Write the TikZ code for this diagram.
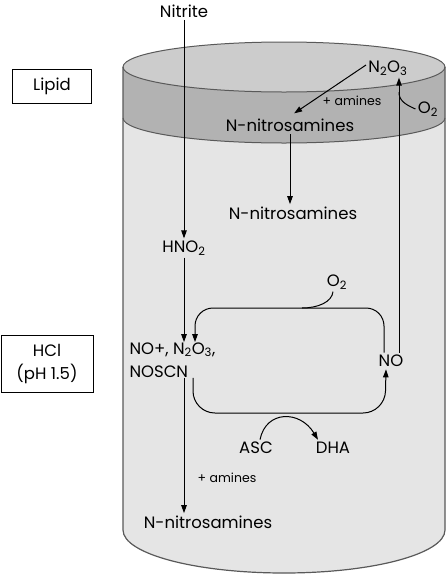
\documentclass[tikz,border=0pt]{standalone}
\usepackage{fontspec}
\setmainfont{Poppins}
\usetikzlibrary{arrows.meta}
\definecolor{lipidtop}{gray}{0.80}
\definecolor{lipidband}{gray}{0.70}
\definecolor{acidbody}{gray}{0.90}
\definecolor{rim}{gray}{0.35}
\tikzset{
  lbl/.style={inner sep=2pt},
  small/.style={font=\fontsize{12.5}{14}\selectfont},
  tag/.style={draw,line width=0.8pt,align=center,inner sep=0pt}
}
\begin{document}
\begin{tikzpicture}[x=1pt,y=-1pt,font=\fontsize{16.5}{23}\selectfont,>={Triangle[length=8pt,width=5.5pt]},line width=1pt]
\useasboundingbox (0,0) rectangle (447,574);
% vessel
\fill[acidbody] (123,67) -- (123,530) arc[start angle=180,end angle=0,x radius=161,y radius=43] -- (445,67) -- cycle;
\fill[lipidband] (123,67) -- (123,118) arc[start angle=180,end angle=0,x radius=161,y radius=25] -- (445,67) -- cycle;
\draw[rim,fill=lipidtop] (284,67) ellipse[x radius=161,y radius=25];
\draw[rim] (123,118) arc[start angle=180,end angle=0,x radius=161,y radius=25];
\draw[rim,line width=1.2pt] (123,67) -- (123,530) arc[start angle=180,end angle=0,x radius=161,y radius=43] -- (445,67);
% side labels
\node[tag,minimum width=79,minimum height=34] (lipid) at (52,86) {Lipid};
\node[tag,minimum width=92,minimum height=57] (hcl) at (47,364) {HCl\\(pH 1.5)};
% species
\node[lbl] (nitrite) at (184,11) {Nitrite};
\node[lbl] (n2o3) at (388,68) {N\textsubscript{2}O\textsubscript{3}};
\node[lbl] (o2top) at (428,109) {O\textsubscript{2}};
\node[small] (amtop) at (352,101) {+ amines};
\node[lbl] (nitrosl) at (290,125) {N-nitrosamines};
\node[lbl] (nitrosm) at (293,213) {N-nitrosamines};
\node[lbl] (hno2) at (184,248) {HNO\textsubscript{2}};
\node[lbl] (o2mid) at (337,282) {O\textsubscript{2}};
\node[lbl,align=left,anchor=west,inner sep=0pt] (nox) at (129,360) {NO+, N\textsubscript{2}O\textsubscript{3},\\NOSCN};
\node[lbl] (no) at (391,361) {NO};
\node[lbl] (asc) at (256,448) {ASC};
\node[lbl] (dha) at (333,448) {DHA};
\node[small] (ambot) at (227,478) {+ amines};
\node[lbl] (nitrosb) at (208,522) {N-nitrosamines};
\coordinate (join) at (302,308);
% main route
\draw[->] (nitrite) -- (hno2);
\draw[->] (hno2) -- (hno2 |- nox.north);
\draw[->] (hno2 |- nox.south) -- (hno2 |- nitrosb.north);
% lipid phase
\draw[->,shorten >=5pt] ([yshift=3pt]n2o3.west) -- (nitrosl.north);
\draw[->] (nitrosl.south) -- (nitrosl.south |- nitrosm.north);
\draw[->] ([xshift=8pt]no.north) -- ([xshift=8pt]no.north |- n2o3.south);
\draw (o2top.west) .. controls (404,104) and (399,100) .. (399,92);
% NO cycle
\draw[->,rounded corners=18pt] ([xshift=-7pt]no.north) |- (join) -| ([xshift=66pt]nox.north west);
\draw ([xshift=-4pt]o2mid.south) .. controls (332,302) and (318,308) .. (join);
\draw[->,rounded corners=22pt] ([xshift=64pt]nox.south west) |- (385,413) -- ([xshift=-5pt]no.south);
\draw[->] ([xshift=4pt]asc.north) .. controls (266,410) and (300,410) .. ([xshift=-15pt]dha.north);
\end{tikzpicture}
\end{document}
